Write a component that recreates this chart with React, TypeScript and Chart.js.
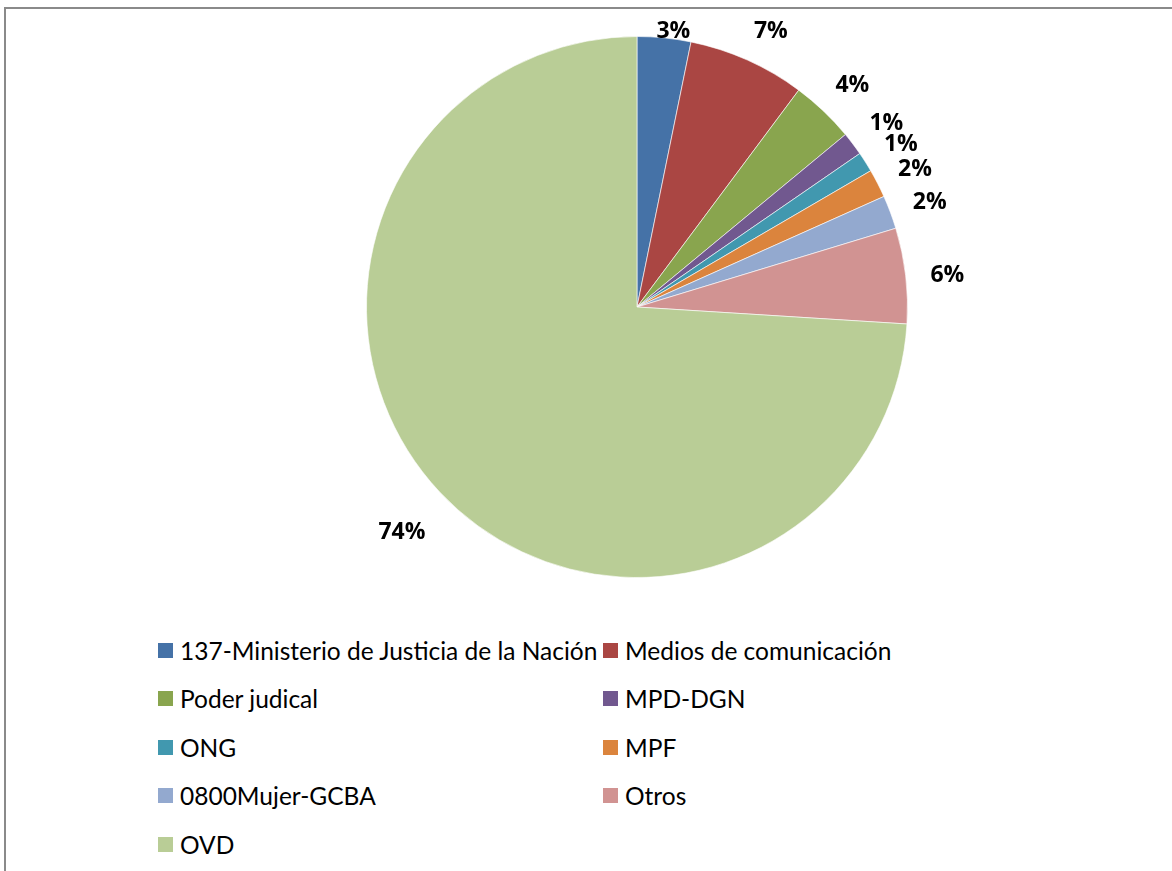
import React, { useEffect, useRef } from "react";
import { Chart, registerables } from "chart.js";

Chart.register(...registerables);

const categories = [
  "137-Ministerio de Justicia de la Nación",
  "Medios de comunicación",
  "Poder judical",
  "MPD-DGN",
  "ONG",
  "MPF",
  "0800Mujer-GCBA",
  "Otros",
  "OVD",
];
const values = [3.2, 7.0, 3.8, 1.4, 1.2, 1.7, 2.0, 5.7, 74.0];
const colors = [
  "#4572A7",
  "#AA4643",
  "#89A54E",
  "#71588F",
  "#4198AF",
  "#DB843D",
  "#93A9CF",
  "#D19392",
  "#B9CD96",
];

const FONT = "Lato, 'Open Sans', sans-serif";
const LABEL_FONT = `bold 23px 'Open Sans', 'DejaVu Sans', sans-serif`;

const labelPlugin = {
  id: "outsideLabels",
  afterDatasetsDraw(chart: any) {
    const ctx = chart.ctx;
    const meta = chart.getDatasetMeta(0);
    const data = chart.data.datasets[0].data as number[];
    const total = data.reduce((a, b) => a + b, 0);
    ctx.save();
    ctx.font = LABEL_FONT;
    ctx.fillStyle = "#000";
    ctx.textAlign = "center";
    ctx.textBaseline = "middle";
    meta.data.forEach((arc: any, i: number) => {
      const p = arc.getProps(["x", "y", "startAngle", "endAngle", "outerRadius"], true);
      const a = (p.startAngle + p.endAngle) / 2;
      const share = data[i] / total;
      let r = p.outerRadius + (share > 0.5 ? 52 : 42);
      const dy = 5;
      let y = p.y + r * Math.sin(a) + dy;
      const minY = 31;
      let clamped = false;
      if (y < minY) {
        r = (minY - dy - p.y) / Math.sin(a);
        y = minY;
        clamped = true;
      }
      let x = p.x + r * Math.cos(a);
      if (clamped) x += 8;
      const txt = Math.round(share * 100) + "%";
      ctx.fillText(txt, x, y);
    });
    ctx.restore();
  },
};

function PieChart() {
  const ref = useRef<HTMLCanvasElement | null>(null);
  useEffect(() => {
    if (!ref.current) return;
    const chart = new Chart(ref.current, {
      type: "pie",
      data: {
        labels: categories,
        datasets: [
          {
            data: values,
            backgroundColor: colors,
            borderColor: "rgba(255,255,255,0.6)",
            borderWidth: 1,
          },
        ],
      },
      options: {
        responsive: false,
        animation: false,
        layout: { padding: { left: 366, right: 264, top: 36, bottom: 42 } },
        plugins: {
          legend: { display: false },
          tooltip: { enabled: false },
        },
      },
      plugins: [labelPlugin],
    });
    if ((document as any).fonts && (document as any).fonts.load) {
      (document as any).fonts
        .load(LABEL_FONT)
        .then(() => chart.update())
        .catch(() => {});
    }
    return () => chart.destroy();
  }, []);
  return (
    <canvas
      ref={ref}
      width={1172}
      height={620}
      style={{ position: "absolute", left: 0, top: 0, width: 1172, height: 620 }}
    />
  );
}

const legendCols = [158, 603];
const legendRowTop = 643;
const legendPitch = 48.4;

export default function App() {
  return (
    <div
      style={{
        position: "fixed",
        left: 0,
        top: 0,
        width: 1172,
        height: 871,
        overflow: "hidden",
        background: "#fff",
      }}
    >
      <div
        style={{
          position: "absolute",
          left: 4,
          top: 7,
          width: 1300,
          height: 1000,
          border: "2px solid #8a8a8a",
          boxSizing: "border-box",
        }}
      />
      <PieChart />
      {categories.map((c, i) => {
        const col = i % 2;
        const row = Math.floor(i / 2);
        return (
          <div
            key={c}
            style={{
              position: "absolute",
              left: legendCols[col],
              top: legendRowTop + row * legendPitch,
              height: 15,
              display: "flex",
              alignItems: "center",
              whiteSpace: "nowrap",
              fontFamily: FONT,
              fontSize: 24.5,
              color: "#000",
            }}
          >
            <span
              style={{
                display: "inline-block",
                width: 15,
                height: 15,
                background: colors[i],
                marginRight: 7,
                flex: "none",
              }}
            />
            <span style={{ lineHeight: "15px" }}>{c}</span>
          </div>
        );
      })}
    </div>
  );
}
